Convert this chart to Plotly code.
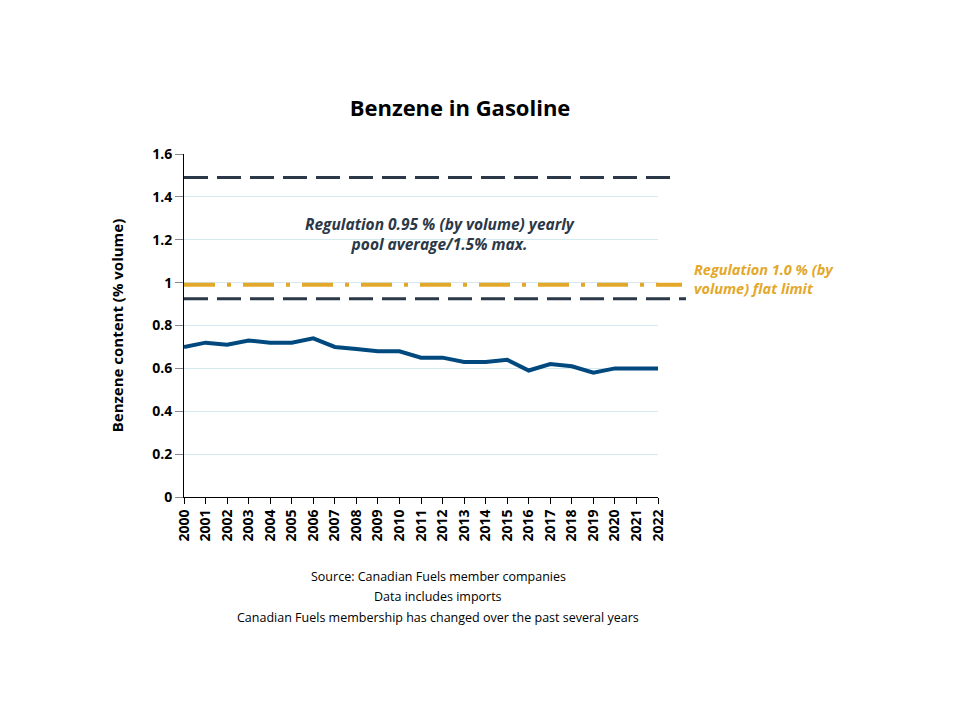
import plotly.graph_objects as go

years = list(range(2000, 2023))
benzene = [0.70, 0.72, 0.71, 0.73, 0.72, 0.72, 0.74, 0.70, 0.69, 0.68, 0.68, 0.65,
           0.65, 0.63, 0.63, 0.64, 0.59, 0.62, 0.61, 0.58, 0.60, 0.60, 0.60]
max_limit = 1.49
flat_limit = 0.99
pool_avg = 0.925
y_ticks = [0, 0.2, 0.4, 0.6, 0.8, 1, 1.2, 1.4, 1.6]
y_ticktext = ["0", "0.2", "0.4", "0.6", "0.8", "1", "1.2", "1.4", "1.6"]
source_lines = ["Source: Canadian Fuels member companies",
                "Data includes imports",
                "Canadian Fuels membership has changed over the past several years"]

FONT = "Open Sans"
DARK = "#2b3847"
ORANGE = "#e3a82a"
BLUE = "#00497f"

OFF = 8  # page body margin
W, H = 960, 720
# target plot area in page pixels
PL, PR, PT, PB = 184, 658, 154, 497
L = PL - OFF
T = PT - OFF
R = W - (PR - OFF)
B = H - (PB - OFF)
pw = PR - PL
ph = PB - PT


def xp(px):
    return (px - PL) / pw


def yp(py):
    return 1 - (py - PT) / ph


fig = go.Figure()
fig.add_trace(go.Scatter(x=years, y=benzene, mode="lines",
                         line=dict(color=BLUE, width=4), showlegend=False))

shapes = [
    dict(type="line", xref="paper", yref="y", x0=0, x1=xp(671), y0=max_limit, y1=max_limit,
         line=dict(color=DARK, width=3, dash="24px,9px")),
    dict(type="line", xref="paper", yref="y", x0=0, x1=xp(682), y0=flat_limit, y1=flat_limit,
         line=dict(color=ORANGE, width=4, dash="31px,12px,4px,12px")),
    dict(type="line", xref="paper", yref="y", x0=0, x1=xp(686), y0=pool_avg, y1=pool_avg,
         line=dict(color=DARK, width=3, dash="24px,9px")),
]

annotations = [
    dict(xref="paper", yref="paper", x=xp(440), y=yp(234),
         text="<b><i>Regulation 0.95 % (by volume) yearly<br>pool average/1.5% max.</i></b>",
         showarrow=False, font=dict(size=15.5, color=DARK, family=FONT), align="center",
         xanchor="center", yanchor="middle"),
    dict(xref="paper", yref="paper", x=xp(692), y=yp(279),
         text="<b><i>Regulation 1.0 % (by<br>volume) flat limit</i></b>",
         showarrow=False, font=dict(size=14.5, color=ORANGE, family=FONT), align="left",
         xanchor="left", yanchor="middle"),
]
for i, line in enumerate(source_lines):
    annotations.append(dict(xref="paper", yref="paper", x=xp(438), y=yp(576 + 20.5 * i),
                            text=line, showarrow=False,
                            font=dict(size=12.5, color="black", family=FONT),
                            xanchor="center", yanchor="middle"))

fig.update_layout(
    width=W, height=H,
    margin=dict(l=L, r=R, t=T, b=B),
    paper_bgcolor="white", plot_bgcolor="white",
    font=dict(family=FONT, color="black"),
    title=dict(text="<b>Benzene in Gasoline</b>", x=(460 - OFF) / W, xanchor="center",
               y=1 - (108 - OFF) / H, yanchor="middle",
               font=dict(size=22, color="black", family=FONT)),
    shapes=shapes,
    annotations=annotations,
    xaxis=dict(range=[2000, 2022], tickmode="array", tickvals=years,
               ticktext=[f"<b>{y}</b>" for y in years], tickangle=-90,
               tickfont=dict(size=14, color="black"), showgrid=False,
               showline=True, linecolor="black", linewidth=1,
               ticks="outside", ticklen=6, tickcolor="black", zeroline=False),
    yaxis=dict(range=[0, 1.6], tickmode="array", tickvals=y_ticks,
               ticktext=[f"<b>{t}</b>" for t in y_ticktext],
               tickfont=dict(size=14, color="black"),
               showgrid=True, gridcolor="#d5e9f0", gridwidth=1,
               showline=True, linecolor="black", linewidth=1,
               ticks="outside", ticklen=8, tickcolor="#888888", zeroline=False,
               title=dict(text="<b>Benzene content (% volume)</b>",
                          font=dict(size=15, color="black"), standoff=24)),
)

fig.write_html("out.html")
